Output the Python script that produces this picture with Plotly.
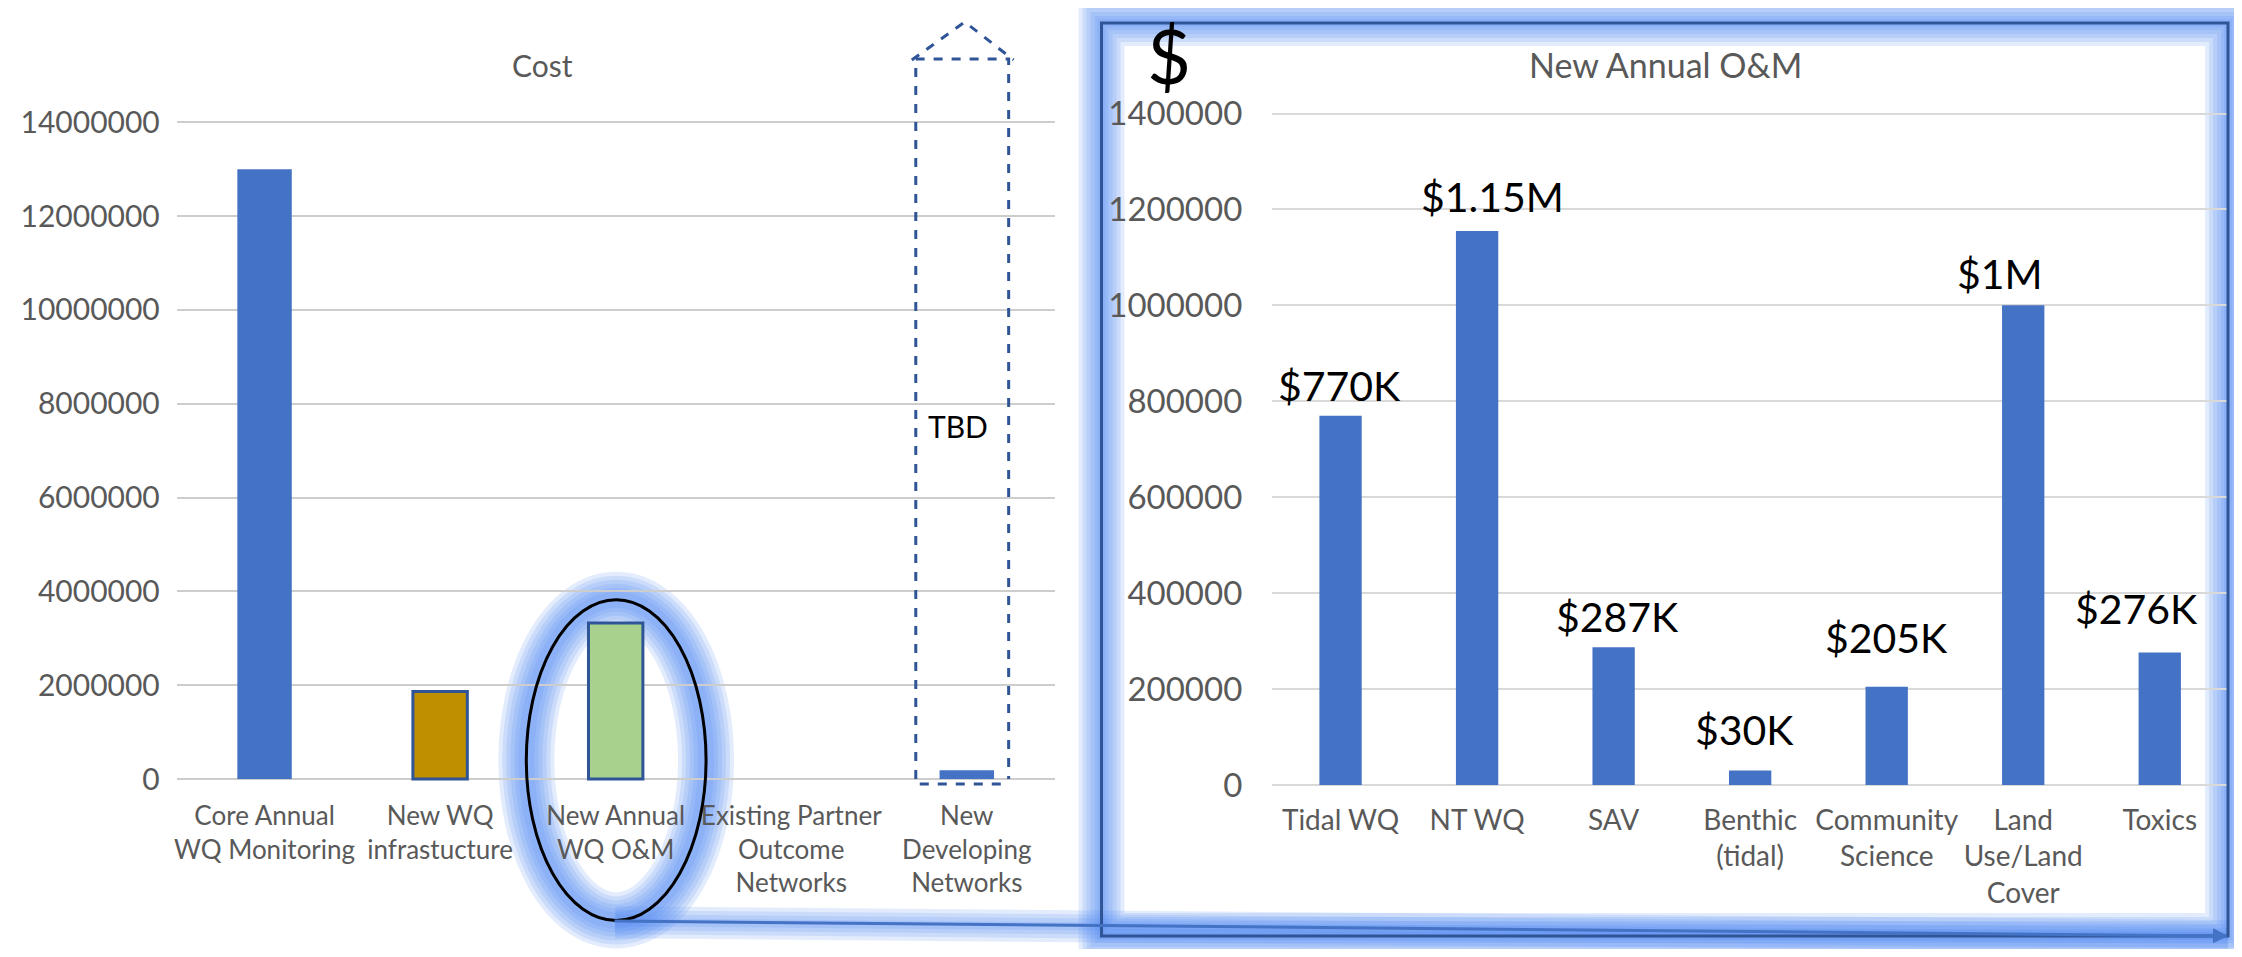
import plotly.graph_objects as go

# ---------------- data ----------------
cost_categories = ["Core Annual<br>WQ Monitoring", "New WQ<br>infrastucture", "New Annual<br>WQ O&M",
                   "Existing Partner<br>Outcome<br>Networks", "New<br>Developing<br>Networks"]
cost_values = [13000000, 1870000, 3330000, 0, 190000]
cost_ticks = [0, 2000000, 4000000, 6000000, 8000000, 10000000, 12000000, 14000000]

om_categories = ["Tidal WQ", "NT WQ", "SAV", "Benthic<br>(tidal)", "Community<br>Science",
                 "Land<br>Use/Land<br>Cover", "Toxics"]
om_values = [770000, 1155000, 287000, 30000, 205000, 1000000, 276000]
om_labels = ["$770K", "$1.15M", "$287K", "$30K", "$205K", "$1M", "$276K"]
om_ticks = [0, 200000, 400000, 600000, 800000, 1000000, 1200000, 1400000]

# ---------------- style ----------------
OFF = 8                      # default page margin of the html body
W, H = 2242 - 2 * OFF, 957 - 2 * OFF
FONT = "Lato, 'Open Sans', sans-serif"
GRAY = "#595959"
GRID = "#D9D9D9"
BLUE = "#4472C4"
DARK = "#2F5597"

cost_colors = [BLUE, "#BF8F00", "#A9D18E", BLUE, BLUE]
cost_line_colors = ["rgba(0,0,0,0)", DARK, DARK, "rgba(0,0,0,0)", "rgba(0,0,0,0)"]
cost_line_widths = [0, 3, 3, 0, 0]

# label offsets (pixels) for the O&M value labels
om_label_dx = [-1, 15, 4, -6, 0, -23, -23]
om_label_dy = [30, 35, 31, 41, 49, 32, 44]


def px(x):
    return (x - OFF) / W


def py(y):
    return 1 - (y - OFF) / H


# axis geometry (page pixels)
L_X0, L_X1 = 174, 1053
L_ZERO, L_TOP, L_BOT, L_UP = 788, 114, 800, 10
kL = (L_ZERO - L_TOP) / 14000000
R_X0, R_X1 = 1271, 2228
R_ZERO, R_TOP, R_BOT, R_UP = 794, 105, 800, 95
kR = (R_ZERO - R_TOP) / 1400000

fig = go.Figure()
fig.add_trace(go.Bar(
    x=list(range(len(cost_categories))), y=cost_values, width=0.31,
    marker=dict(color=cost_colors, line=dict(color=cost_line_colors, width=cost_line_widths)),
    xaxis="x", yaxis="y", hoverinfo="skip"))
fig.add_trace(go.Bar(
    x=list(range(len(om_categories))), y=om_values, width=0.31,
    marker=dict(color=BLUE, line=dict(width=0)),
    xaxis="x2", yaxis="y2", hoverinfo="skip"))

axis_common = dict(showline=False, zeroline=False, ticks="", fixedrange=True)

fig.update_layout(
    width=W, height=H, margin=dict(l=0, r=0, t=0, b=0), autosize=False,
    paper_bgcolor="white", plot_bgcolor="rgba(0,0,0,0)", showlegend=False,
    font=dict(family=FONT, color=GRAY),
    xaxis=dict(domain=[px(L_X0), px(L_X1)], anchor="y", type="linear",
               range=[-0.5, len(cost_categories) - 0.5],
               tickvals=list(range(len(cost_categories))), ticktext=cost_categories,
               showgrid=False, tickfont=dict(size=26, color=GRAY), ticklabelstandoff=7, **axis_common),
    yaxis=dict(domain=[py(L_BOT), py(L_UP)], anchor="x",
               range=[-(L_BOT - L_ZERO) / kL, (L_ZERO - L_UP) / kL],
               tickvals=cost_ticks, tickformat="d", showgrid=True, gridcolor="#CDCDCD", gridwidth=2,
               tickfont=dict(size=30, color=GRAY), ticklabelstandoff=16, **axis_common),
    xaxis2=dict(domain=[px(R_X0), px(R_X1)], anchor="y2", type="linear",
                range=[-0.5, len(om_categories) - 0.5],
                tickvals=list(range(len(om_categories))), ticktext=om_categories,
                showgrid=False, tickfont=dict(size=28, color=GRAY), ticklabelstandoff=10, **axis_common),
    yaxis2=dict(domain=[py(R_BOT), py(R_UP)], anchor="x2",
                range=[-(R_BOT - R_ZERO) / kR, (R_ZERO - R_UP) / kR],
                tickvals=om_ticks, tickformat="d", showgrid=True, gridcolor=GRID, gridwidth=2,
                tickfont=dict(size=33, color=GRAY), ticklabelstandoff=29, **axis_common),
)

GLOW = "rgba(80,135,240,0.16)"
shapes = []
# glow around right frame
for w in [46, 38, 30, 22, 14, 8]:
    shapes.append(dict(type="rect", xref="paper", yref="paper", layer="below",
                       x0=px(1100), x1=px(2228), y0=py(949), y1=py(12),
                       line=dict(color=GLOW, width=w), fillcolor="rgba(0,0,0,0)"))
# glow around ellipse
for w in [56, 48, 40, 32, 24, 16]:
    shapes.append(dict(type="circle", xref="paper", yref="paper", layer="below",
                       x0=px(524), x1=px(704), y0=py(933), y1=py(604),
                       line=dict(color=GLOW, width=w), fillcolor="rgba(0,0,0,0)"))
# glow along connector
for w in [32, 24, 16, 8]:
    shapes.append(dict(type="line", xref="paper", yref="paper", layer="below",
                       x0=px(613), y0=py(935), x1=px(2228), y1=py(949),
                       line=dict(color=GLOW, width=w)))
# right frame
shapes.append(dict(type="rect", xref="paper", yref="paper", layer="above",
                   x0=px(1100), x1=px(2228), y0=py(949), y1=py(12),
                   line=dict(color=DARK, width=3), fillcolor="rgba(0,0,0,0)"))
# ellipse
shapes.append(dict(type="circle", xref="paper", yref="paper", layer="above",
                   x0=px(524), x1=px(704), y0=py(933), y1=py(604),
                   line=dict(color="black", width=3), fillcolor="rgba(0,0,0,0)"))
# dashed TBD box with arrow head
box = f"M {px(914)},{py(788)} L {px(914)},{py(49)} L {px(1007)},{py(49)} L {px(1007)},{py(788)}"
shapes.append(dict(type="path", xref="paper", yref="paper", path=box,
                   line=dict(color=DARK, width=3, dash="dash")))
shapes.append(dict(type="line", xref="paper", yref="paper", x0=px(918), x1=px(1003), y0=py(793), y1=py(793),
                   line=dict(color=DARK, width=3, dash="dash")))
tri = f"M {px(910)},{py(50)} L {px(963)},{py(11)} L {px(1012)},{py(50)}"
shapes.append(dict(type="path", xref="paper", yref="paper", path=tri,
                   line=dict(color=DARK, width=3, dash="dash")))

C = dict(xanchor="center", yanchor="middle", showarrow=False)
annotations = []
annotations.append(dict(text="Cost", xref="paper", yref="paper", x=px(540), y=py(55),
                        font=dict(size=30, color=GRAY), **C))
annotations.append(dict(text="New Annual O&M", xref="paper", yref="paper", x=px(1665), y=py(55),
                        font=dict(size=34, color=GRAY), **C))
annotations.append(dict(text="$", xref="paper", yref="paper", x=px(1168), y=py(44),
                        font=dict(size=76, color="black"), **C))
annotations.append(dict(text="TBD", xref="paper", yref="paper", x=px(956), y=py(426),
                        font=dict(size=30, color="black"), **C))
for i, (v, lab) in enumerate(zip(om_values, om_labels)):
    annotations.append(dict(text=lab, xref="x2", yref="y2", x=i, y=v,
                            xshift=om_label_dx[i], yshift=om_label_dy[i],
                            font=dict(size=41, color="black"), **C))
# connector arrow
annotations.append(dict(text="", xref="paper", yref="paper", x=px(2228), y=py(949),
                        ax=613 - 2228, ay=934 - 949, axref="pixel", ayref="pixel",
                        showarrow=True, arrowhead=2, arrowsize=1, arrowwidth=3, arrowcolor=BLUE))

fig.update_layout(shapes=shapes, annotations=annotations)
fig.write_html("out.html", config={"displayModeBar": False})
